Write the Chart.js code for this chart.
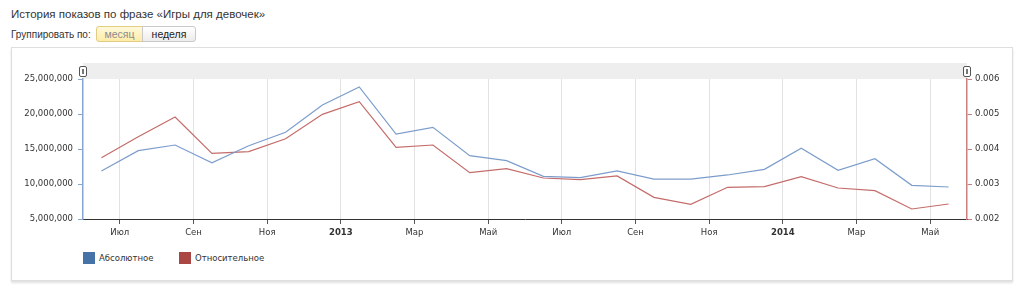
<!DOCTYPE html>
<html>
<head>
<meta charset="utf-8">
<script src="https://cdn.jsdelivr.net/npm/chart.js@4"></script>
<style>
    body { margin: 0; background: #fff; font-family: "Liberation Sans", Arial, sans-serif; color: #333; }
    .page { position: relative; width: 1024px; height: 288px; overflow: hidden; }
    .title { position: absolute; left: 11px; top: 7px; font-size: 11.5px; line-height: 14px; color: #333; }
    .group-label { position: absolute; left: 11px; top: 29px; font-size: 10px; line-height: 12px; color: #333; }
    .btn { position: absolute; top: 26px; height: 14px; font-size: 10.5px; line-height: 14px; text-align: center; box-sizing: content-box; }
    .btn-month { left: 96px; width: 45px; background: linear-gradient(#fff9dc, #ffeba8); border: 1px solid #e2cc82; border-radius: 3px 0 0 3px; color: #8c8c8c; }
    .btn-week { left: 142px; width: 52px; background: linear-gradient(#ffffff, #ececec); border: 1px solid #c9c9c9; border-radius: 0 3px 3px 0; color: #222; }
    .panel { position: absolute; left: 11px; top: 47px; width: 1000px; height: 232px; border: 1px solid #dedede; box-shadow: 0 2px 2px rgba(0, 0, 0, 0.12); background: #fff; }
    .legend { position: absolute; left: 83px; top: 252px; font-family: "DejaVu Sans", Verdana, sans-serif; font-size: 8.5px; color: #333; }
    .legend-item { position: absolute; top: 0; white-space: nowrap; }
    .legend-swatch { position: absolute; left: 0; top: 0; width: 12px; height: 12px; }
    .legend-text { position: absolute; left: 16px; top: 1px; line-height: 10px; }
    #chart { position: absolute; left: 0; top: 0; pointer-events: none; }
</style>
</head>
<body>
<div class="page">
    <div class="title">История показов по фразе «Игры для девочек»</div>
    <div class="group-label">Группировать по:</div>
    <div class="btn btn-month">месяц</div>
    <div class="btn btn-week">неделя</div>
    <div class="panel"></div>
    <div class="legend" id="legend"></div>
    <canvas id="chart" width="1024" height="288"></canvas>
</div>
<script>
// months from Jun 2012 to May 2014, one point per month
const months = [
    '2012-06', '2012-07', '2012-08', '2012-09', '2012-10', '2012-11', '2012-12',
    '2013-01', '2013-02', '2013-03', '2013-04', '2013-05', '2013-06', '2013-07',
    '2013-08', '2013-09', '2013-10', '2013-11', '2013-12', '2014-01', '2014-02',
    '2014-03', '2014-04', '2014-05',
];

const absoluteValues = [
    11860000, 14760000, 15570000, 13040000, 15470000, 17380000, 21290000,
    23860000, 17140000, 18100000, 14050000, 13330000, 11100000, 10900000,
    11860000, 10710000, 10710000, 11290000, 12100000, 15100000, 11950000,
    13620000, 9810000, 9570000,
];

const relativeValues = [
    0.003752, 0.004351, 0.004914, 0.003876, 0.003924, 0.004294, 0.004991,
    0.005352, 0.004048, 0.004114, 0.003324, 0.003437, 0.003171, 0.003124,
    0.003229, 0.002619, 0.002420, 0.002906, 0.002924, 0.003209, 0.002886,
    0.002809, 0.002286, 0.002429,
];

const seriesNames = ['Абсолютное', 'Относительное'];
const seriesColors = ['#4572a7', '#aa4643'];

const xTickLabels = ['Июл', 'Сен', 'Ноя', '2013', 'Мар', 'Май', 'Июл', 'Сен', 'Ноя', '2014', 'Мар', 'Май'];
const leftTicks = [5000000, 10000000, 15000000, 20000000, 25000000];
const rightTicks = [0.002, 0.003, 0.004, 0.005, 0.006];

const tickFont = { family: '"DejaVu Sans", Verdana, sans-serif', size: 8.5 };

// x position is the month index, points sit in the middle of their month
const toPoints = (values) => values.map((value, index) => ({ x: index + 0.5, y: value }));

const legendElement = document.getElementById('legend');
seriesNames.forEach((name, index) => {
    const item = document.createElement('div');
    item.className = 'legend-item';
    item.style.left = (index * 96) + 'px';
    item.innerHTML = '<span class="legend-swatch" style="background:' + seriesColors[index] + '"></span>' +
        '<span class="legend-text">' + name + '</span>';
    legendElement.appendChild(item);
});

const scrollbarPlugin = {
    id: 'scrollbar',
    beforeDraw(chart) {
        const { ctx, chartArea } = chart;
        ctx.save();
        ctx.fillStyle = '#eeeeee';
        ctx.fillRect(chartArea.left, chartArea.top - 16, chartArea.right - chartArea.left, 16);
        [chartArea.left, chartArea.right].forEach((x) => {
            ctx.fillStyle = '#ffffff';
            ctx.strokeStyle = '#555555';
            ctx.lineWidth = 1;
            ctx.beginPath();
            ctx.roundRect(x - 3.5, chartArea.top - 12.5, 7, 10, 1.5);
            ctx.fill();
            ctx.stroke();
            ctx.fillStyle = '#777777';
            ctx.fillRect(x - 1, chartArea.top - 10, 2, 5);
        });
        ctx.restore();
    },
};

new Chart(document.getElementById('chart'), {
    type: 'line',
    data: {
        datasets: [
            {
                label: seriesNames[0],
                data: toPoints(absoluteValues),
                borderColor: '#7c9dcc',
                borderWidth: 1.2,
                pointRadius: 0,
                tension: 0,
                yAxisID: 'yLeft',
            },
            {
                label: seriesNames[1],
                data: toPoints(relativeValues),
                borderColor: '#c46c6a',
                borderWidth: 1.2,
                pointRadius: 0,
                tension: 0,
                yAxisID: 'yRight',
            },
        ],
    },
    options: {
        responsive: false,
        animation: false,
        devicePixelRatio: 1,
        layout: { padding: { left: 0, right: 0, top: 79, bottom: 44 } },
        plugins: { legend: { display: false }, tooltip: { enabled: false } },
        scales: {
            x: {
                type: 'linear',
                min: 0,
                max: months.length,
                afterBuildTicks: (scale) => {
                    scale.ticks = xTickLabels.map((label, index) => ({ value: 1 + index * 2 }));
                },
                afterFit: (scale) => { scale.height = 25; },
                ticks: {
                    autoSkip: false,
                    maxRotation: 0,
                    padding: 4,
                    color: '#333',
                    font: (context) => {
                        const label = xTickLabels[context.index] || '';
                        return { ...tickFont, weight: /^\d+$/.test(label) ? 'bold' : 'normal' };
                    },
                    callback: (value, index) => xTickLabels[index],
                },
                grid: { color: '#e2e2e2', tickColor: '#555', tickLength: 5, drawTicks: true },
                border: { color: '#333', width: 1 },
            },
            yLeft: {
                type: 'linear',
                position: 'left',
                min: 5000000,
                max: 25000000,
                afterBuildTicks: (scale) => {
                    scale.ticks = leftTicks.map((value) => ({ value }));
                },
                afterFit: (scale) => { scale.width = 83; },
                ticks: {
                    padding: 5,
                    color: '#333',
                    font: tickFont,
                    callback: (value) => Number(value).toLocaleString('en-US'),
                },
                grid: { drawOnChartArea: false, tickLength: 5, tickColor: '#88a6d4' },
                border: { color: '#88a6d4', width: 1.5 },
            },
            yRight: {
                type: 'linear',
                position: 'right',
                min: 0.002,
                max: 0.006,
                afterBuildTicks: (scale) => {
                    scale.ticks = rightTicks.map((value) => ({ value }));
                },
                afterFit: (scale) => { scale.width = 57; },
                ticks: {
                    padding: 3,
                    color: '#333',
                    font: tickFont,
                    callback: (value) => Number(value).toFixed(3),
                },
                grid: { drawOnChartArea: false, tickLength: 5, tickColor: '#c98080' },
                border: { color: '#c98080', width: 1.5 },
            },
        },
    },
    plugins: [scrollbarPlugin],
});
</script>
</body>
</html>
